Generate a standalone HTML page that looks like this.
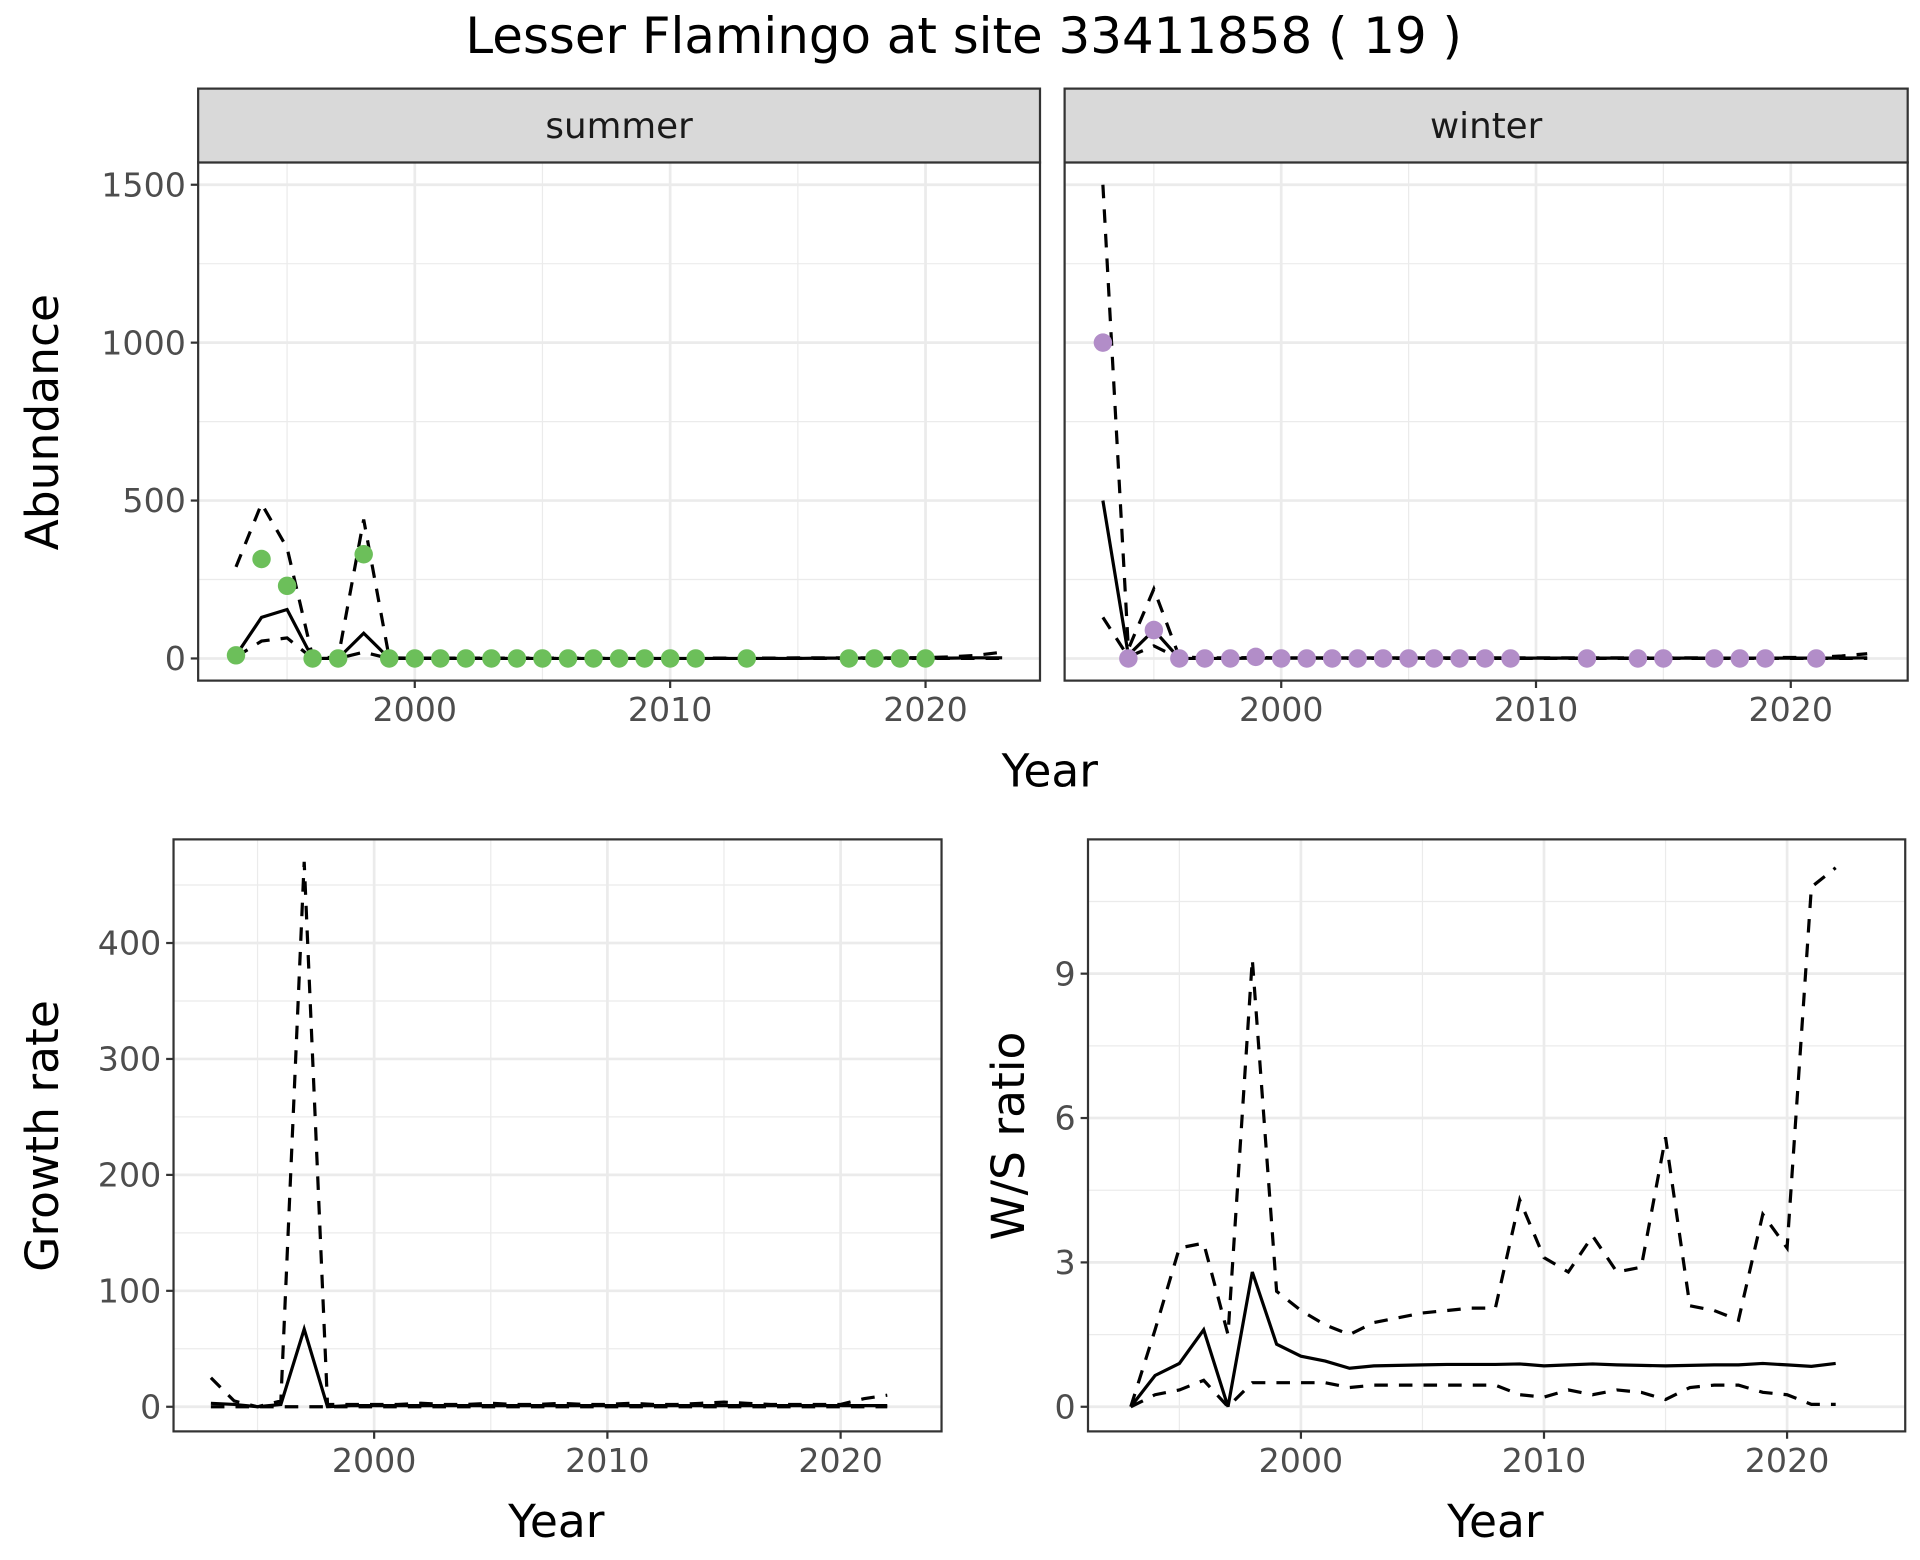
<!DOCTYPE html>
<html><head><meta charset="utf-8"><style>
html,body{margin:0;padding:0;background:#fff;}
svg{display:block;font-family:"DejaVu Sans","Liberation Sans",sans-serif;}
</style></head><body>
<svg id="chart" width="1920" height="1560" viewBox="0 0 1560 1267.5" xmlns="http://www.w3.org/2000/svg">
<rect width="1560" height="1267.5" fill="#fff"/>
<text x="783" y="43" font-size="40.5" text-anchor="middle" fill="#000">Lesser Flamingo at site 33411858 ( 19 )</text>
<g id="root"></g>
</svg>
<script>
// ---- data ----
const absYears = [1993,1994,1995,1996,1997,1998,1999,2000,2001,2002,2003,2004,2005,2006,2007,2008,2009,2010,2011,2012,2013,2014,2015,2016,2017,2018,2019,2020,2021,2022,2023];
const sumFit   = [10,130,155,0,0,80,0,0,0,0,0,0,0,0,0,0,0,0,0,0,0,0,0,1,1,1,1,1,1,2,2];
const sumUpper = [290,490,350,5,2,440,2,1,1,1,1,1,1,1,1,1,1,1,1,1,1,1,2,2,2,2,2,3,5,10,20];
const sumLower = [5,55,65,0,0,20,0,0,0,0,0,0,0,0,0,0,0,0,0,0,0,0,0,0,0,0,0,0,0,0,0];
const sumObsYears = [1993,1994,1995,1996,1997,1998,1999,2000,2001,2002,2003,2004,2005,2006,2007,2008,2009,2010,2011,2013,2017,2018,2019,2020];
const sumObs      = [10,315,230,0,0,330,0,0,0,0,0,0,0,0,0,0,0,0,0,0,0,0,0,0];
const winFit   = [500,10,90,0,0,0,1,1,1,1,1,1,1,1,1,1,1,1,1,1,1,1,1,1,1,1,1,1,1,1,2];
const winUpper = [1500,30,220,5,2,2,3,2,2,2,2,2,2,2,2,2,2,2,2,2,2,2,2,2,2,2,3,3,4,8,15];
const winLower = [130,5,40,0,0,0,0,0,0,0,0,0,0,0,0,0,0,0,0,0,0,0,0,0,0,0,0,0,0,0,0];
const winObsYears = [1993,1994,1995,1996,1997,1998,1999,2000,2001,2002,2003,2004,2005,2006,2007,2008,2009,2012,2014,2015,2017,2018,2019,2021];
const winObs      = [1000,0,90,0,0,0,5,0,0,0,0,0,0,0,0,0,0,0,0,0,0,0,0,0];
const absTicks = [0,500,1000,1500];
const absMinor = [250,750,1250];

const rateYears = [1993,1994,1995,1996,1997,1998,1999,2000,2001,2002,2003,2004,2005,2006,2007,2008,2009,2010,2011,2012,2013,2014,2015,2016,2017,2018,2019,2020,2021,2022];
const grFit   = [3,2,0,2,67,0,1,1,1,1,1,1,1,1,1,1,1,1,1,1,1,1,1,1,1,1,1,1,1,1];
const grUpper = [25,5,0,5,470,2,2,2,2,3,2,2,3,2,2,3,2,2,3,2,2,3,4,3,2,2,2,2,7,10];
const grLower = [0,0,0,0,0,0,0,0,0,0,0,0,0,0,0,0,0,0,0,0,0,0,0,0,0,0,0,0,0,0];
const grTicks = [0,100,200,300,400];
const grMinor = [50,150,250,350,450];

const wsFit   = [0,0.65,0.9,1.6,0,2.8,1.3,1.05,0.95,0.8,0.85,0.86,0.87,0.88,0.88,0.88,0.89,0.85,0.87,0.89,0.87,0.86,0.85,0.86,0.87,0.87,0.9,0.87,0.84,0.9];
const wsUpper = [0,1.6,3.3,3.4,1.5,9.3,2.4,2.0,1.7,1.5,1.75,1.85,1.95,2.0,2.05,2.05,4.3,3.1,2.8,3.55,2.8,2.9,5.6,2.1,2.0,1.8,4.0,3.3,10.8,11.2];
const wsLower = [0,0.25,0.35,0.55,0,0.5,0.5,0.5,0.5,0.4,0.45,0.45,0.45,0.45,0.45,0.45,0.25,0.2,0.35,0.25,0.35,0.3,0.15,0.4,0.45,0.45,0.3,0.25,0.05,0.05];
const wsTicks = [0,3,6,9];
const wsMinor = [1.5,4.5,7.5,10.5];

const xTicks = [2000,2010,2020];
const xMinor = [1995,2005,2015];

// ---- drawing ----
const NS='http://www.w3.org/2000/svg';
const root=document.getElementById('root');
function mk(tag,attrs,parent){const e=document.createElementNS(NS,tag);for(const k in attrs)e.setAttribute(k,attrs[k]);(parent||root).appendChild(e);return e;}

function panel(o){
  const g=mk('g',{});
  
  
  const xs=v=>o.x0+(v-o.xmin)/(o.xmax-o.xmin)*(o.x1-o.x0);
  const ys=v=>o.y1-(v-o.ymin)/(o.ymax-o.ymin)*(o.y1-o.y0);
  o.xMinor.forEach(v=>{const l=mk('line',{x1:xs(v),x2:xs(v),y1:o.y0,y2:o.y1,stroke:'#ebebeb','stroke-width':1},g);
    });
  o.yMinor.forEach(v=>{if(ys(v)<o.y0)return;const l=mk('line',{x1:o.x0,x2:o.x1,y1:ys(v),y2:ys(v),stroke:'#ebebeb','stroke-width':1},g);
    });
  o.xTicks.forEach(v=>{const l=mk('line',{x1:xs(v),x2:xs(v),y1:o.y0,y2:o.y1,stroke:'#ebebeb','stroke-width':2.2},g);
    
    const t=mk('line',{x1:xs(v),x2:xs(v),y1:o.y1,y2:o.y1+6,stroke:'#333','stroke-width':1.8},g);
    
    const tx=mk('text',{x:xs(v),y:o.y1+33,'font-size':27,'text-anchor':'middle',fill:'#4d4d4d'},g);tx.textContent=v;
    });
  o.yTicks.forEach(v=>{const l=mk('line',{x1:o.x0,x2:o.x1,y1:ys(v),y2:ys(v),stroke:'#ebebeb','stroke-width':2.2},g);
    
    if(o.yLabels){
    const t=mk('line',{x1:o.x0-6,x2:o.x0,y1:ys(v),y2:ys(v),stroke:'#333','stroke-width':1.8},g);
    
    const tx=mk('text',{x:o.x0-10,y:ys(v)+9.5,'font-size':27,'text-anchor':'end',fill:'#4d4d4d'},g);tx.textContent=v;
    }});
  const pth=(yrs,vals)=>yrs.map((y,i)=>(i?'L':'M')+xs(y).toFixed(2)+','+ys(vals[i]).toFixed(2)).join('');
  const up=mk('path',{d:pth(o.years,o.upper),fill:'none',stroke:'#000','stroke-width':2.6,'stroke-dasharray':'11,9'},g);
  
  const lo=mk('path',{d:pth(o.years,o.lower),fill:'none',stroke:'#000','stroke-width':2.6,'stroke-dasharray':'11,9'},g);
  
  const fi=mk('path',{d:pth(o.years,o.fit),fill:'none',stroke:'#000','stroke-width':2.6},g);
  
  if(o.obsYears){o.obsYears.forEach((y,i)=>{const c=mk('circle',{cx:xs(y),cy:ys(o.obs[i]),r:7.5,fill:o.color},g);
    });}
  const b=mk('rect',{x:o.x0,y:o.y0,width:o.x1-o.x0,height:o.y1-o.y0,fill:'none',stroke:'#333','stroke-width':1.8},g);
  
  if(o.strip){const s=mk('rect',{x:o.x0,y:o.y0-60,width:o.x1-o.x0,height:60,fill:'#d9d9d9',stroke:'#333','stroke-width':1.8},g);
    
    const st=mk('text',{x:(o.x0+o.x1)/2,y:o.y0-20,'font-size':29,'text-anchor':'middle',fill:'#1a1a1a'},g);st.textContent=o.strip;
    }
  return g;
}
const absBase={xTicks,xMinor,yTicks:absTicks,yMinor:absMinor,years:absYears};
panel(Object.assign({},absBase,{name:'summer-panel',x0:161,x1:845,y0:132,y1:553,xmin:2000-176/20.75,xmax:2000+508/20.75,
  ymin:-18/128.3*500,ymax:403/128.3*500,yLabels:true,strip:'summer',fit:sumFit,upper:sumUpper,lower:sumLower,obsYears:sumObsYears,obs:sumObs,color:'#6cbf5a'}));
panel(Object.assign({},absBase,{name:'winter-panel',x0:865,x1:1550,y0:132,y1:553,xmin:2000-176/20.7,xmax:2000+509/20.7,
  ymin:-18/128.3*500,ymax:403/128.3*500,yLabels:false,strip:'winter',fit:winFit,upper:winUpper,lower:winLower,obsYears:winObsYears,obs:winObs,color:'#b28dc8'}));
panel({name:'growth-rate-panel',x0:141,x1:765,y0:682,y1:1163,xmin:2000-163/18.95,xmax:2000+461/18.95,ymin:-20/0.942,ymax:461/0.942,
  xTicks,xMinor,yTicks:grTicks,yMinor:grMinor,yLabels:true,years:rateYears,fit:grFit,upper:grUpper,lower:grLower});
panel({name:'ws-ratio-panel',x0:884,x1:1548,y0:682,y1:1163,xmin:2000-173/19.75,xmax:2000+491/19.75,ymin:-20/39.1,ymax:461/39.1,
  xTicks,xMinor,yTicks:wsTicks,yMinor:wsMinor,yLabels:true,years:rateYears,fit:wsFit,upper:wsUpper,lower:wsLower});

function label(txt,x,y,rot,name){const t=mk('text',{x:x,y:y,'font-size':37,'text-anchor':'middle',fill:'#000'});
  if(rot)t.setAttribute('transform','rotate(-90 '+x+' '+y+')');t.textContent=txt;
  }
label('Year',853,639,false,'abundance-x-axis-title');
label('Abundance',47,343,true,'abundance-y-axis-title');
label('Year',452,1249,false,'growth-x-axis-title');
label('Growth rate',47,923,true,'growth-y-axis-title');
label('Year',1215,1249,false,'ws-x-axis-title');
label('W/S ratio',832,923,true,'ws-y-axis-title');
</script>
</body></html>
